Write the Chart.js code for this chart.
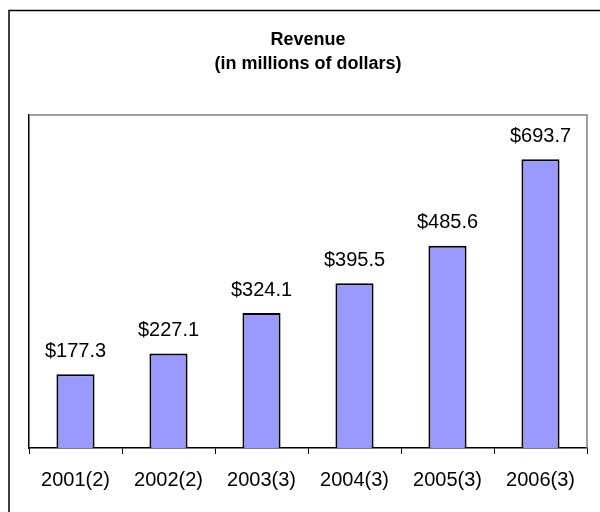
<!DOCTYPE html>
<html>
<head>
<meta charset="utf-8">
<script src="https://cdn.jsdelivr.net/npm/chart.js@4.4.1/dist/chart.umd.min.js"></script>
<style>
  html, body { margin: 0; padding: 0; background: #fff; }
  #wrap { width: 600px; height: 512px; }
</style>
</head>
<body>
<div id="wrap"><canvas id="revenue-chart" width="600" height="512"></canvas></div>
<script>
  // Revenue by fiscal year
  const years = ['2001(2)', '2002(2)', '2003(3)', '2004(3)', '2005(3)', '2006(3)'];
  const revenue = [177.3, 227.1, 324.1, 395.5, 485.6, 693.7];
  const titleLines = ['Revenue', '(in millions of dollars)'];

  const FONT = '"Liberation Sans", Arial, sans-serif';

  // Frame around the chart (only top and left edges fall inside the canvas)
  const framePlugin = {
    id: 'frame',
    beforeDraw(chart) {
      const c = chart.ctx;
      c.save();
      c.strokeStyle = '#000';
      c.lineWidth = 1.5;
      c.beginPath();
      c.moveTo(9, 512);
      c.lineTo(9, 10.5);
      c.lineTo(600, 10.5);
      c.stroke();
      c.restore();
    },
    afterDatasetsDraw(chart) {
      // gray top/right edges of the plot area
      const { left, right, top, bottom } = chart.chartArea;
      const c = chart.ctx;
      c.save();
      c.strokeStyle = '#808080';
      c.lineWidth = 1.5;
      c.beginPath();
      c.moveTo(left, top);
      c.lineTo(right, top);
      c.lineTo(right, bottom);
      c.stroke();
      c.restore();
    }
  };

  // Dollar labels above each bar
  const valueLabels = {
    id: 'valueLabels',
    afterDatasetsDraw(chart) {
      const c = chart.ctx;
      const meta = chart.getDatasetMeta(0);
      c.save();
      c.font = '20px ' + FONT;
      c.fillStyle = '#000';
      c.textAlign = 'center';
      c.textBaseline = 'middle';
      meta.data.forEach((bar, i) => {
        c.fillText('$' + revenue[i].toFixed(1), bar.x, bar.y - 23);
      });
      c.restore();
    }
  };

  new Chart(document.getElementById('revenue-chart'), {
    type: 'bar',
    data: {
      labels: years,
      datasets: [{
        data: revenue,
        backgroundColor: '#9999ff',
        borderColor: '#000',
        borderWidth: 2,
        categoryPercentage: 1,
        barPercentage: 0.41
      }]
    },
    options: {
      responsive: false,
      animation: false,
      layout: { padding: { top: 10, left: 29, right: 13, bottom: 6 } },
      plugins: {
        legend: { display: false },
        tooltip: { enabled: false },
        title: {
          display: true,
          text: titleLines,
          color: '#000',
          font: { family: FONT, size: 18, weight: 'bold', lineHeight: 1.3333 },
          padding: { top: 18, bottom: 39 }
        }
      },
      scales: {
        x: {
          offset: true,
          grid: {
            offset: true,
            drawOnChartArea: false,
            drawTicks: true,
            tickLength: 6,
            color: '#000',
            lineWidth: 1
          },
          border: { display: true, color: '#000', width: 1.5 },
          ticks: {
            color: '#000',
            font: { family: FONT, size: 20 },
            padding: 14,
            maxRotation: 0
          }
        },
        y: {
          min: 0,
          max: 800,
          grid: { display: false, drawTicks: false },
          border: { display: true, color: '#000', width: 1.5 },
          ticks: { display: false }
        }
      }
    },
    plugins: [framePlugin, valueLabels]
  });
</script>
</body>
</html>
